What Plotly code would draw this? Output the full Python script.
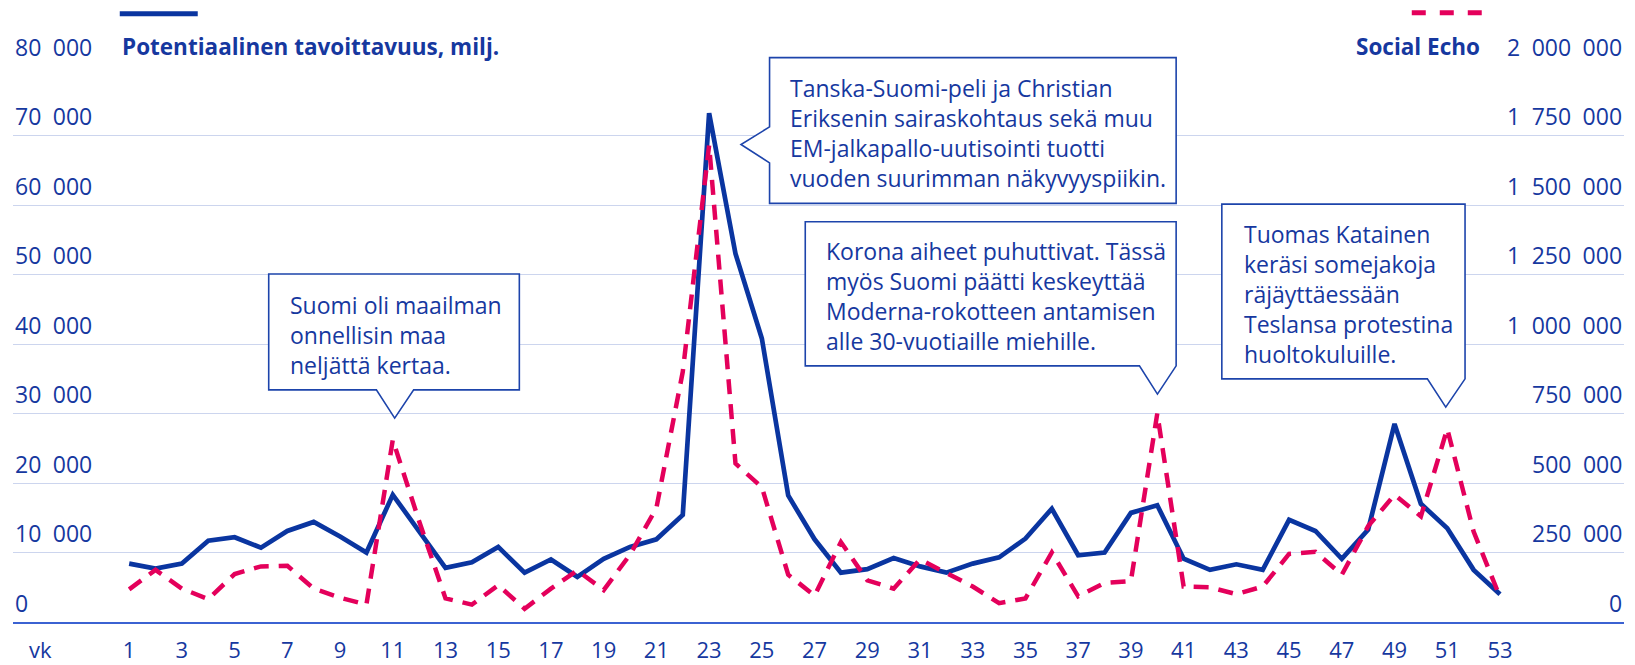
import plotly.graph_objects as go

# ---------------- data ----------------
weeks = list(range(1, 54))
reach = [8400, 7700, 8400, 11700, 12200, 10700, 13100, 14400, 12300, 10000,
         18300, 13000, 7800, 8600, 10800, 7100, 9000, 6500, 9100, 10800,
         11900, 15400, 73200, 53000, 40800, 18200, 11900, 7100, 7600, 9200,
         8000, 7100, 8400, 9300, 12000, 16300, 9600, 10000, 15700, 16800,
         9100, 7500, 8300, 7500, 14700, 13100, 9100, 13300, 28500, 17000,
         13500, 7500, 4000]
social_echo = [117500, 187500, 120000, 82500, 172500, 200000, 202500, 120000, 87500, 62500,
               655000, 362500, 85000, 62500, 132500, 47500, 120000, 185000, 115000, 242500,
               410000, 900000, 1715000, 570000, 485000, 170000, 95000, 287500, 150000, 120000,
               225000, 177500, 127500, 67500, 85000, 250000, 92500, 140000, 147500, 750000,
               127500, 125000, 100000, 127500, 245000, 252500, 170000, 345000, 457500, 380000,
               695000, 325000, 90000]

left_ticks = [0, 10000, 20000, 30000, 40000, 50000, 60000, 70000, 80000]
left_labels = ["0", "10\u2002000", "20\u2002000", "30\u2002000", "40\u2002000",
               "50\u2002000", "60\u2002000", "70\u2002000", "80\u2002000"]
right_ticks = [0, 250000, 500000, 750000, 1000000, 1250000, 1500000, 1750000, 2000000]
right_labels = ["0", "250\u2002000", "500\u2002000", "750\u2002000", "1\u2002000\u2002000",
                "1\u2002250\u2002000", "1\u2002500\u2002000", "1\u2002750\u2002000",
                "2\u2002000\u2002000"]
week_ticks = list(range(1, 54, 2))
week_axis_title = "vk"

series_names = ["Potentiaalinen tavoittavuus, milj.", "Social Echo"]

notes = [
    "Suomi oli maailman<br>onnellisin maa<br>neljättä kertaa.",
    "Tanska-Suomi-peli ja Christian<br>Eriksenin sairaskohtaus sekä muu<br>"
    "EM-jalkapallo-uutisointi tuotti<br>vuoden suurimman näkyvyyspiikin.",
    "Korona aiheet puhuttivat. Tässä<br>myös Suomi päätti keskeyttää<br>"
    "Moderna-rokotteen antamisen<br>alle 30-vuotiaille miehille.",
    "Tuomas Katainen<br>keräsi somejakoja<br>räjäyttäessään<br>Teslansa protestina<br>huoltokuluille.",
]

# ---------------- geometry (screen pixels of the 1635x665 shot) ----------------
W, H = 1635, 665
OFF = 8            # page offset (body margin) observed in the rendering
RH = H             # rendered figure height
SCR_LEFT, SCR_RIGHT = 12.5, 1624     # plot area in screen px
SCR_TOP, SCR_BOTTOM = 65.7, 622.5
ML = SCR_LEFT - OFF
MR = W - (SCR_RIGHT - OFF)
MT = SCR_TOP - OFF
MB = RH - (SCR_BOTTOM - OFF)
PW = W - ML - MR
PH = RH - MT - MB
X_W1, PX_WEEK = 128.7, 26.37         # screen x of week 1, px per week
x_range = [1 - (X_W1 - SCR_LEFT) / PX_WEEK, 1 + (SCR_RIGHT - X_W1) / PX_WEEK]

BLUE = "#0a35a0"
TEXT = "#16389f"
PINK = "#e4005b"
GRID = "#ccd5ee"
AXIS = "#3b62d2"
BOX = "#1d44ab"
FONT = "Open Sans"


def S(x, y):
    """screen px -> paper coords"""
    return (x - SCR_LEFT) / PW, (SCR_BOTTOM - y) / PH


def path_from(points):
    pts = [S(x, y) for x, y in points]
    return "M " + " L ".join(f"{a:.5f},{b:.5f}" for a, b in pts) + " Z"


bubbles = [
    [(268.3, 274), (519, 274), (519, 390), (413.3, 390), (394.3, 418.3), (376, 390), (268.3, 390)],
    [(769.3, 57.3), (1176, 57.3), (1176, 203.3), (769.3, 203.3), (769.3, 162.7), (740.7, 144.3),
     (769.3, 126.7)],
    [(805, 221.7), (1176, 221.7), (1176, 366), (1157.3, 394.3), (1139.3, 366), (805, 366)],
    [(1221.7, 204), (1465, 204), (1465, 379), (1445.7, 407.3), (1427.3, 379), (1221.7, 379)],
]
note_pos = [(287.3, 334.7), (787.7, 132.6), (823.3, 296.0), (1241.7, 293.7)]

fig = go.Figure()
fig.add_trace(go.Scatter(x=weeks, y=reach, mode="lines", name=series_names[0],
                         line=dict(color=BLUE, width=4.7), yaxis="y"))
fig.add_trace(go.Scatter(x=weeks, y=social_echo, mode="lines", name=series_names[1],
                         line=dict(color=PINK, width=4.5, dash="15px,10px"), yaxis="y2"))

shapes = []
for b in bubbles:
    shapes.append(dict(type="path", xref="paper", yref="paper", path=path_from(b),
                       fillcolor="white", line=dict(color=BOX, width=1.6), layer="above"))
# legend keys
x0, y0 = S(119.3, 13.3)
x1, _ = S(197.3, 13.3)
shapes.append(dict(type="line", xref="paper", yref="paper", x0=x0, x1=x1, y0=y0, y1=y0,
                   line=dict(color=BLUE, width=5)))
x0, y0 = S(1411.7, 12.3)
x1, _ = S(1481.7, 12.3)
shapes.append(dict(type="line", xref="paper", yref="paper", x0=x0, x1=x1, y0=y0, y1=y0,
                   line=dict(color=PINK, width=5, dash="14px,14px")))

annotations = []
for t, (ax, ay) in zip(notes, note_pos):
    xa, ya = S(ax, ay)
    annotations.append(dict(xref="paper", yref="paper", x=xa, y=ya, text=t, showarrow=False,
                            xanchor="left", yanchor="middle", align="left",
                            font=dict(family=FONT, size=23, color=TEXT)))
xa, ya = S(119.3, 46.5)
annotations.append(dict(xref="paper", yref="paper", x=xa, y=ya, text=f"<b>{series_names[0]}</b>",
                        showarrow=False, xanchor="left", yanchor="middle",
                        font=dict(family=FONT, size=22.5, color=TEXT)))
xa, ya = S(1481.7, 46.5)
annotations.append(dict(xref="paper", yref="paper", x=xa, y=ya, text=f"<b>{series_names[1]}</b>",
                        showarrow=False, xanchor="right", yanchor="middle",
                        font=dict(family=FONT, size=22.5, color=TEXT)))

tick_font = dict(family=FONT, size=23, color=TEXT)
week_font = dict(family=FONT, size=22, color=TEXT)
LABEL_LIFT = 19.5
xl, _ = S(SCR_LEFT, 0)
xr, _ = S(SCR_RIGHT, 0)
for v, lab in zip(left_ticks, left_labels):
    annotations.append(dict(xref="paper", yref="y", x=xl, y=v, text=lab, showarrow=False,
                            xanchor="left", yanchor="middle", yshift=LABEL_LIFT, font=tick_font))
for v, lab in zip(right_ticks, right_labels):
    annotations.append(dict(xref="paper", yref="y2", x=xr, y=v, text=lab, showarrow=False,
                            xanchor="right", yanchor="middle", yshift=LABEL_LIFT, font=tick_font))
xv, yv = S(40.0, 649.5)
annotations.append(dict(xref="paper", yref="paper", x=xv, y=yv, text=week_axis_title,
                        showarrow=False, xanchor="center", yanchor="middle", font=week_font))

fig.update_layout(
    width=W, height=H,
    margin=dict(l=ML, r=MR, t=MT, b=MB, pad=0, autoexpand=False),
    paper_bgcolor="white", plot_bgcolor="white",
    showlegend=False,
    shapes=shapes,
    annotations=annotations,
    xaxis=dict(range=x_range, tickvals=week_ticks, ticktext=[str(w) for w in week_ticks],
               showgrid=False, zeroline=False, showline=True, linecolor=AXIS, linewidth=1.5,
               ticks="outside", ticklen=8, tickcolor="rgba(0,0,0,0)", tickfont=week_font),
    yaxis=dict(range=[0, 80000], tickvals=left_ticks, showticklabels=False,
               showgrid=True, gridcolor=GRID, gridwidth=1, zeroline=False, showline=False,
               ticks=""),
    yaxis2=dict(range=[0, 2000000], tickvals=right_ticks, showticklabels=False,
                overlaying="y", side="right", showgrid=False, zeroline=False, showline=False,
                ticks=""),
)

fig.write_html("out.html")
